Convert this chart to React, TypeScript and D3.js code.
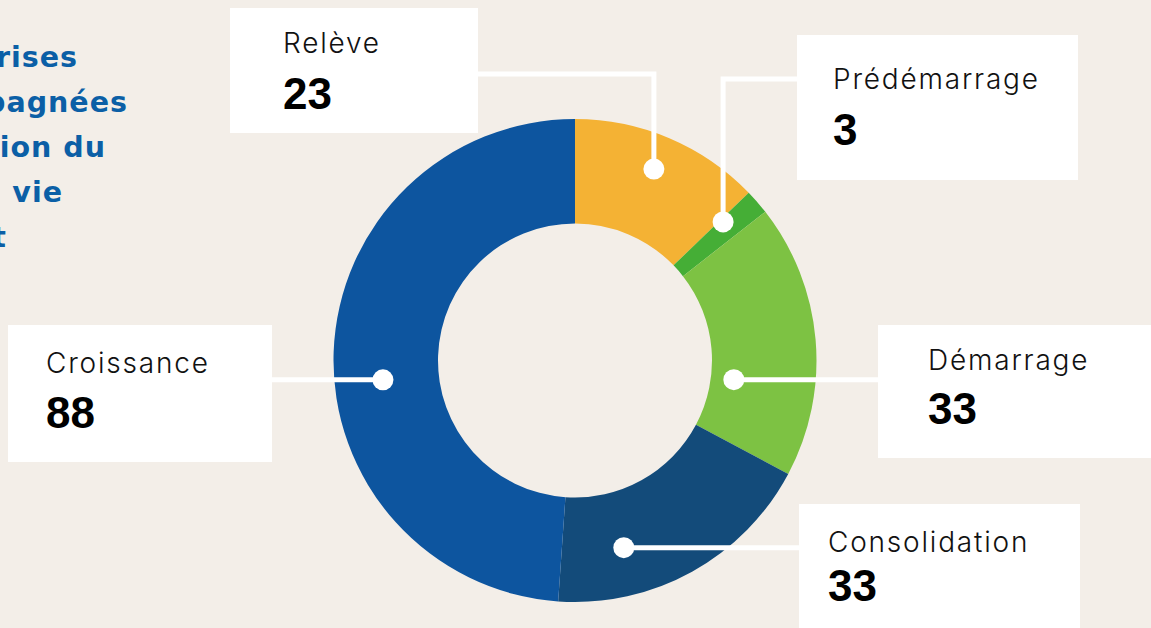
import React from 'react';
import * as d3 from 'd3';

// ---- data ----
const categories = ['Relève', 'Prédémarrage', 'Démarrage', 'Consolidation', 'Croissance'];
const values = [23, 3, 33, 33, 88];
const colors = ['#F4B234', '#45AE36', '#7DC243', '#134B7A', '#0D559F'];
const titleLines = ['Entreprises', 'accompagnées', 'en fonction du', 'cycle de vie', 'du projet'];

// ---- layout ----
const W = 1151;
const H = 628;
const CX = 575;
const CY = 360.5;
const R_OUT = 241.5;
const R_IN = 137;
const BG = '#F3EEE8';
const TITLE_COLOR = '#0B5FA6';

type Conn = { kind: 'elbow'; y: number; side: 'left' | 'right' } | { kind: 'straight'; side: 'left' | 'right' };
interface Lay {
  box: [number, number, number, number];
  tx: number;
  ly: number;
  vy: number;
  dot: [number, number]; // fraction along slice angle, fraction across ring
  conn: Conn;
}
const layout: Lay[] = [
  { box: [230, 8, 248, 125], tx: 283, ly: 53, vy: 109, dot: [0.487, 0.67], conn: { kind: 'elbow', y: 74, side: 'left' } },
  { box: [797, 35, 281, 145], tx: 833, ly: 89, vy: 145, dot: [0.15, 0.63], conn: { kind: 'elbow', y: 79, side: 'right' } },
  { box: [878, 325, 273, 133], tx: 928, ly: 370, vy: 424, dot: [0.68, 0.22], conn: { kind: 'straight', side: 'right' } },
  { box: [799, 504, 281, 124], tx: 828, ly: 552, vy: 601, dot: [0.718, 0.54], conn: { kind: 'straight', side: 'right' } },
  { box: [8, 325, 264, 137], tx: 46, ly: 373, vy: 428, dot: [0.456, 0.536], conn: { kind: 'straight', side: 'left' } },
];
const titleRightEdges = [78, 128, 106, 63, 7];
const titleBaselines = [67, 112, 157, 202, 247];

export default function App() {
  const pie = d3.pie<number>().sort(null).value((d) => d).startAngle(0).endAngle(Math.PI * 2);
  const arcs = pie(values);
  const arcGen = d3.arc<d3.PieArcDatum<number>>().innerRadius(R_IN).outerRadius(R_OUT);

  return (
    <svg
      width={W}
      height={H}
      viewBox={`0 0 ${W} ${H}`}
      style={{ position: 'fixed', left: 0, top: 0, display: 'block' }}
    >
      <rect x={0} y={0} width={W} height={H} fill={BG} />

      {/* title (cut off at left, as in the source) */}
      <g
        fontFamily="'DejaVu Sans', Verdana, sans-serif"
        fontWeight={700}
        fontSize={28.5}
        letterSpacing={1}
        fill={TITLE_COLOR}
      >
        {titleLines.map((t, i) => (
          <text key={i} x={titleRightEdges[i]} y={titleBaselines[i]} textAnchor="end">
            {t}
          </text>
        ))}
      </g>

      {/* donut */}
      <g transform={`translate(${CX},${CY})`}>
        {arcs.map((a, i) => (
          <path key={i} d={arcGen(a) || ''} fill={colors[i]} />
        ))}
      </g>

      {/* boxes, connectors, dots */}
      {arcs.map((a, i) => {
        const L = layout[i];
        const ang = a.startAngle + (a.endAngle - a.startAngle) * L.dot[0];
        const rad = R_IN + (R_OUT - R_IN) * L.dot[1];
        const [px, py] = d3.pointRadial(ang, rad);
        const dx = CX + px;
        const dy = CY + py;
        const [bx, by, bw, bh] = L.box;
        const edgeX = L.conn.side === 'left' ? bx + bw : bx;
        let pathD = '';
        if (L.conn.kind === 'elbow') {
          pathD = `M${dx},${dy}V${L.conn.y}H${edgeX}`;
        } else {
          pathD = `M${dx},${dy}H${edgeX}`;
        }
        return (
          <g key={i}>
            <path d={pathD} fill="none" stroke="#ffffff" strokeWidth={5} />
            <circle cx={dx} cy={dy} r={10.5} fill="#ffffff" />
            <rect x={bx} y={by} width={bw} height={bh} fill="#ffffff" />
            <text
              x={L.tx}
              y={L.ly}
              fontFamily="Inter, 'Open Sans', sans-serif"
              fontWeight={300}
              fontSize={28}
              letterSpacing={1.8}
              fill="#111111"
            >
              {categories[i]}
            </text>
            <text
              x={L.tx}
              y={L.vy}
              fontFamily="'Liberation Sans', Arial, sans-serif"
              fontWeight={700}
              fontSize={44}
              fill="#000000"
            >
              {values[i]}
            </text>
          </g>
        );
      })}
    </svg>
  );
}
